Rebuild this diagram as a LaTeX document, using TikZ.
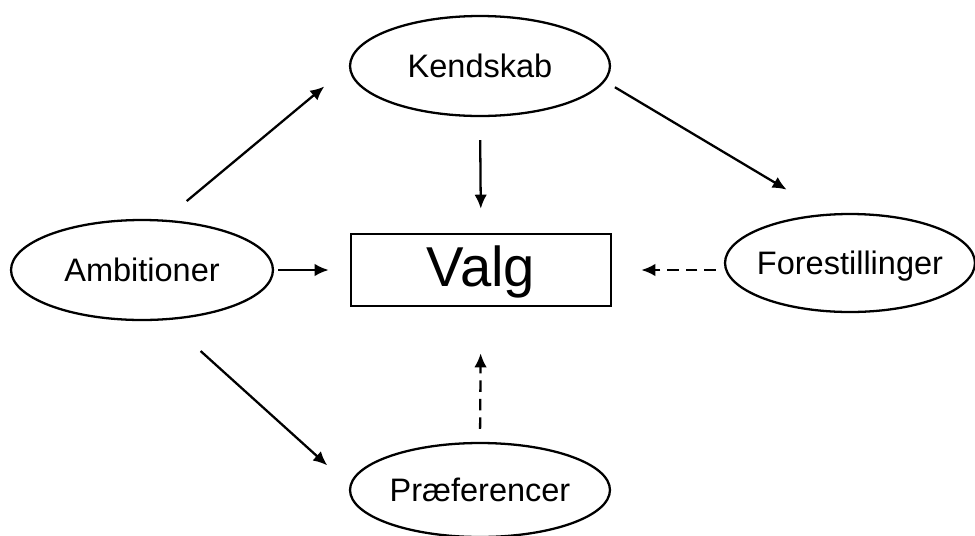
\documentclass[tikz,border=0pt]{standalone}
\usepackage{fontspec}
\setmainfont{Liberation Sans}
\usepackage{tikz}
\usetikzlibrary{shapes,positioning,calc}
\usetikzlibrary{shapes.geometric}
\usetikzlibrary{arrows.meta}
\tikzstyle{begreb} = [ellipse, draw=black, line width=1.3pt, inner sep=0pt,
minimum width=5.2cm, minimum height=2cm, text centered, text height=13.2pt, text depth=0pt,
font=\fontsize{18.5}{22}\selectfont]
\tikzstyle{valg} = [rectangle, draw=black, line width=1.5pt, minimum width=5.2cm,
minimum height=1.44cm, text centered, text height=23pt, text depth=4pt,
font=\fontsize{32}{38}\selectfont]
\tikzstyle{arrow} = [line width=1.3pt,-{Latex[length=0.28cm,width=0.25cm]}]
\tikzstyle{dasharrow} = [arrow, dash pattern=on 0.23cm off 0.14cm]
\begin{document}
\begin{tikzpicture}[x=0.02cm,y=-0.02cm]
							\useasboundingbox (0,0) rectangle (975,535);
							\node (ken) at (480,66) [begreb] {Kendskab};
							\node (amb) at (142,270) [begreb, minimum width=5.24cm] {Ambitioner};
							\node (fore) at (850,263) [begreb, minimum width=5cm, minimum height=1.96cm, inner xsep=-0.15cm] {Forestillinger};
							\node (prae) at (480,490) [begreb, minimum height=1.88cm] {Præferencer};
							\node (v) at (481,270) [valg] {Valg};
							\draw[arrow, shorten <=0.58cm, shorten >=0.64cm] (amb.66) -- (ken.west);
							\draw[arrow, shorten <=0.23cm, shorten >=0.94cm] (ken.-7.5) -- (fore.115);
							\draw[arrow, shorten <=0.46cm, shorten >=0.48cm] (ken.south) -- (v.north);
							\draw[arrow, shorten <=0.08cm, shorten >=0.42cm] (amb.east) -- (v.west);
							\draw[arrow, shorten <=0.92cm, shorten >=0.6cm] (amb.-64) -- (prae.178);
							\draw[dasharrow, shorten <=0.16cm, shorten >=0.58cm] (v.east -| fore.west) -- (v.east);
							\draw[dasharrow, shorten <=0.26cm, shorten >=0.92cm] (prae.north) -- (v.south);
						\end{tikzpicture}
\end{document}
